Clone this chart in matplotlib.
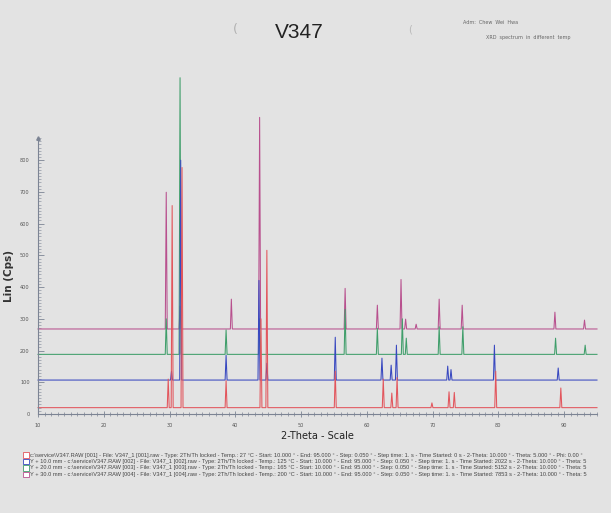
import matplotlib.pyplot as plt
from matplotlib.patches import Rectangle
from matplotlib.ticker import MultipleLocator

# Scan baselines (Lin Cps) and peaks: 2-theta position, peak top
base_red = 20
pos_red = [29.8, 30.4, 31.9, 38.6, 43.9, 44.8, 55.2, 62.5, 63.8, 64.6, 69.9, 72.5, 73.3, 79.6, 89.5]
top_red = [110, 657, 777, 105, 300, 516, 135, 110, 66, 115, 35, 70, 68, 135, 82]

base_blue = 107
pos_blue = [30.3, 31.7, 38.6, 43.6, 44.8, 55.2, 62.3, 63.7, 64.5, 72.3, 72.8, 79.4, 89.1]
top_blue = [135, 800, 185, 421, 160, 242, 176, 154, 217, 151, 140, 217, 145]

base_green = 188
pos_green = [29.5, 31.6, 38.6, 43.7, 56.7, 61.6, 65.4, 66.0, 71.0, 74.6, 88.7, 93.2]
top_green = [300, 1060, 265, 300, 330, 270, 300, 239, 275, 275, 239, 217]

base_mag = 268
pos_mag = [29.5, 31.6, 39.4, 43.7, 56.7, 61.6, 65.2, 65.9, 67.5, 71.0, 74.5, 88.6, 93.1]
top_mag = [699, 340, 362, 935, 396, 343, 424, 299, 283, 362, 343, 321, 296]

legend_lines = [
    "c:\\service\\V347.RAW [001] - File: V347_1 [001].raw - Type: 2Th/Th locked - Temp.: 27 °C - Start: 10.000 ° - End: 95.000 ° - Step: 0.050 ° - Step time: 1. s - Time Started: 0 s - 2-Theta: 10.000 ° - Theta: 5.000 ° - Phi: 0.00 °",
    "Y + 10.0 mm - c:\\service\\V347.RAW [002] - File: V347_1 [002].raw - Type: 2Th/Th locked - Temp.: 125 °C - Start: 10.000 ° - End: 95.000 ° - Step: 0.050 ° - Step time: 1. s - Time Started: 2022 s - 2-Theta: 10.000 ° - Theta: 5",
    "Y + 20.0 mm - c:\\service\\V347.RAW [003] - File: V347_1 [003].raw - Type: 2Th/Th locked - Temp.: 165 °C - Start: 10.000 ° - End: 95.000 ° - Step: 0.050 ° - Step time: 1. s - Time Started: 5152 s - 2-Theta: 10.000 ° - Theta: 5",
    "Y + 30.0 mm - c:\\service\\V347.RAW [004] - File: V347_1 [004].raw - Type: 2Th/Th locked - Temp.: 200 °C - Start: 10.000 ° - End: 95.000 ° - Step: 0.050 ° - Step time: 1. s - Time Started: 7853 s - 2-Theta: 10.000 ° - Theta: 5",
]

c_red, c_blue, c_green, c_mag = '#e2555c', '#3848c0', '#3f9e6a', '#b8508e'
bg = '#e3e3e3'


def trace(base, pos, top, hw=0.15):
    # polyline: flat baseline with a narrow triangle at each peak
    xs, ys = [10], [base]
    for p, t in zip(pos, top):
        xs += [p - hw, p, p + hw]
        ys += [base, t, base]
    xs.append(95)
    ys.append(base)
    return xs, ys


W, H = 611, 513
fig = plt.figure(figsize=(W / 100, H / 100), dpi=100, facecolor=bg)
ax = fig.add_axes([38 / W, 1 - 414 / H, (597 - 38) / W, (414 - 138) / H])
ax.set_facecolor(bg)

for base, pos, top, col in [(base_mag, pos_mag, top_mag, c_mag),
                            (base_green, pos_green, top_green, c_green),
                            (base_blue, pos_blue, top_blue, c_blue),
                            (base_red, pos_red, top_red, c_red)]:
    xs, ys = trace(base, pos, top)
    ax.plot(xs, ys, color=col, lw=0.75, clip_on=False)

ax.set_xlim(10, 95)
ax.set_ylim(0, 870)
ax.set_xticks(range(10, 100, 10))
ax.set_yticks(range(0, 900, 100))
ax.xaxis.set_minor_locator(MultipleLocator(1))
ax.yaxis.set_minor_locator(MultipleLocator(10))
for s in ['top', 'right']:
    ax.spines[s].set_visible(False)
for s in ['left', 'bottom']:
    ax.spines[s].set_color('#7c8494')
    ax.spines[s].set_linewidth(0.8)
ax.tick_params(axis='both', which='both', colors='#7c8494', labelcolor='#555555', labelsize=3.6)
ax.tick_params(axis='x', which='major', direction='inout', length=5, width=0.6, pad=4)
ax.tick_params(axis='x', which='minor', direction='inout', length=3, width=0.5)
ax.tick_params(axis='y', which='major', direction='in', length=4, width=0.6, pad=6)
ax.tick_params(axis='y', which='minor', direction='in', length=2, width=0.4)
ax.plot(0, 1, '^', color='#7c8494', ms=2.5, transform=ax.transAxes, clip_on=False)

ax.set_ylabel("Lin (Cps)", fontsize=7.5, fontweight='bold', color='#333333', labelpad=4)
ax.set_xlabel("2-Theta - Scale", fontsize=7, color='#222222', labelpad=2)

fig.text(299 / W, 1 - 33 / H, "V347", fontsize=15, family='Liberation Sans', color='#222222',
         ha='center', va='center')
fig.text(463 / W, 1 - 23 / H, "Adm:  Chew  Wei  Hwa", fontsize=3.5, color='#666666', va='center')
fig.text(486 / W, 1 - 37 / H, "XRD  spectrum  in  different  temp", fontsize=3.5, color='#666666', va='center')
fig.text(233 / W, 1 - 30 / H, "(", fontsize=9, color='#b0b0b0', va='center')
fig.text(408 / W, 1 - 30 / H, "(", fontsize=7, color='#b8b8b8', va='center')

for i, (txt, col) in enumerate(zip(legend_lines, [c_red, c_blue, c_green, c_mag])):
    y = 455 + i * 6.5
    fig.add_artist(Rectangle((23 / W, 1 - (y + 2.8) / H), 6 / W, 5.6 / H, transform=fig.transFigure,
                             facecolor='white', edgecolor=col, lw=0.6))
    fig.text(30 / W, 1 - y / H, txt, fontsize=4.1, family='Liberation Sans', color='#444444',
             va='center')

fig.savefig('out.png', dpi=100, facecolor=bg)
